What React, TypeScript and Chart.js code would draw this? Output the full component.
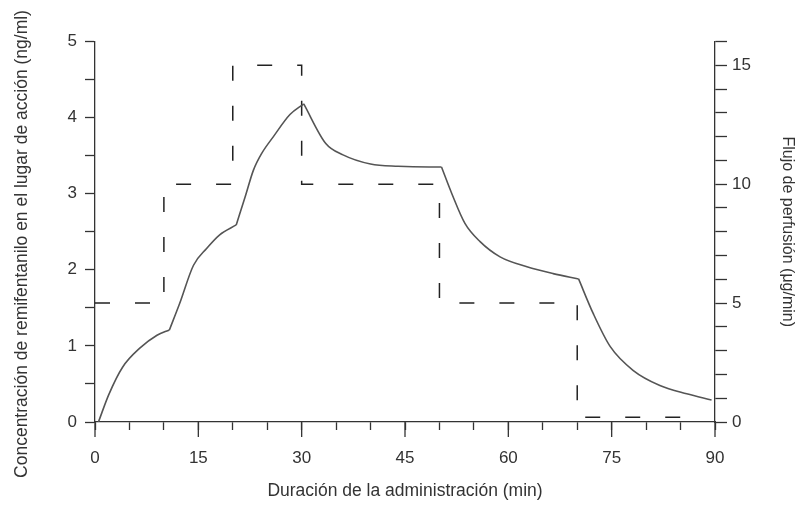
import { useEffect, useRef } from "react";
import { Chart, registerables } from "chart.js";

Chart.register(...registerables);

// Concentración en el lugar de acción (ng/ml) vs. tiempo (min)
const concTime = [0.5, 2, 4, 6.5, 9, 10.8, 12.3, 14.3, 16.2, 18.1, 20.5, 21.8, 23, 24.2, 25.9, 28.3, 30.3, 33.5, 36, 40, 44, 48.5, 50.3, 51.8, 53.7, 55.9, 58.8, 62.7, 66.5, 70.2, 72.3, 74.8, 78.1, 82, 85.9, 89.5];
const concValue = [0, 0.36, 0.72, 0.97, 1.14, 1.21, 1.56, 2.06, 2.28, 2.46, 2.59, 2.96, 3.31, 3.53, 3.75, 4.04, 4.18, 3.66, 3.51, 3.39, 3.36, 3.35, 3.35, 3.0, 2.61, 2.37, 2.17, 2.04, 1.95, 1.88, 1.43, 0.99, 0.68, 0.48, 0.37, 0.29];
// Cambios de velocidad de perfusión (min) donde la curva presenta un quiebre
const phaseBreaks = [10.8, 20.5, 30.3, 50.3, 70.2];

// Flujo de perfusión (µg/min), escalonado
const flowTime = [0, 10, 20, 30, 50, 70, 88];
const flowRate = [5, 10, 15, 10, 5, 0.2, 0.2];

const xMajorTicks = [0, 15, 30, 45, 60, 75, 90];
const leftLabelStep = 1;
const rightLabelStep = 5;

const leftTitle = "Concentración de remifentanilo en el lugar de acción (ng/ml)";
const rightTitle = "Flujo de perfusión (μg/min)";
const bottomTitle = "Duración de la administración (min)";

const axisColor = "#333";
const textColor = "#333";
const fontFamily = "'Liberation Sans', Arial, Helvetica, sans-serif";

const majorTickPlugin = {
  id: "majorTicks",
  afterDraw(chart: any) {
    const x = chart.scales.x;
    const ctx = chart.ctx;
    ctx.save();
    ctx.strokeStyle = axisColor;
    ctx.lineWidth = 1.3;
    for (const v of xMajorTicks) {
      const px = x.getPixelForValue(v);
      ctx.beginPath();
      ctx.moveTo(px, x.top);
      ctx.lineTo(px, x.top + 15);
      ctx.stroke();
    }
    ctx.restore();
  },
};

const leftTitlePlugin = {
  id: "leftTitle",
  afterDraw(chart: any) {
    const ctx = chart.ctx;
    ctx.save();
    ctx.translate(22, 244);
    ctx.rotate(-Math.PI / 2);
    ctx.fillStyle = textColor;
    ctx.font = `17.5px ${fontFamily}`;
    ctx.textAlign = "center";
    ctx.textBaseline = "middle";
    ctx.fillText(leftTitle, 0, 0);
    ctx.restore();
  },
};

function buildPhases() {
  const bounds = [concTime[0], ...phaseBreaks, concTime[concTime.length - 1]];
  const phases: { x: number; y: number }[][] = [];
  for (let i = 0; i < bounds.length - 1; i++) {
    const lo = bounds[i];
    const hi = bounds[i + 1];
    const pts: { x: number; y: number }[] = [];
    concTime.forEach((t, j) => {
      if (t >= lo && t <= hi) pts.push({ x: t, y: concValue[j] });
    });
    phases.push(pts);
  }
  return phases;
}

export default function App() {
  const canvasRef = useRef<HTMLCanvasElement | null>(null);

  useEffect(() => {
    if (!canvasRef.current) return;
    const phases = buildPhases();
    const concDatasets = phases.map((pts) => ({
      type: "line" as const,
      data: pts,
      yAxisID: "y",
      borderColor: "#555",
      borderWidth: 1.6,
      pointRadius: 0,
      cubicInterpolationMode: "monotone" as const,
      fill: false,
    }));
    const flowDataset = {
      type: "line" as const,
      data: flowTime.map((t, i) => ({ x: t, y: flowRate[i] })),
      yAxisID: "y1",
      borderColor: "#222",
      borderWidth: 1.5,
      borderDash: [15, 25],
      pointRadius: 0,
      stepped: true,
      fill: false,
    };

    const tickFont = { family: fontFamily, size: 17 };

    const chart = new Chart(canvasRef.current, {
      type: "line",
      data: { datasets: [...concDatasets, flowDataset] as any },
      plugins: [majorTickPlugin, leftTitlePlugin],
      options: {
        responsive: false,
        animation: false,
        layout: { padding: { top: 41.5, left: 0, right: 0, bottom: 0 } },
        plugins: { legend: { display: false }, tooltip: { enabled: false } },
        scales: {
          x: {
            type: "linear",
            min: 0,
            max: 90,
            afterFit: (s: any) => {
              s.height = 84;
            },
            ticks: {
              stepSize: 5,
              autoSkip: false,
              maxRotation: 0,
              padding: 18,
              color: textColor,
              font: tickFont,
              callback: (v: any) => (v % 15 === 0 ? String(v) : ""),
            },
            grid: {
              drawOnChartArea: false,
              drawTicks: true,
              tickLength: 8,
              tickColor: axisColor,
              tickWidth: 1.3,
            },
            border: { display: true, color: axisColor, width: 1.3 },
            title: {
              display: true,
              text: bottomTitle,
              color: textColor,
              font: { family: fontFamily, size: 17.5 },
              padding: { top: 0, bottom: 4 },
            },
          },
          y: {
            type: "linear",
            position: "left",
            min: 0,
            max: 5,
            afterFit: (s: any) => {
              s.width = 95;
            },
            ticks: {
              stepSize: 0.5,
              autoSkip: false,
              padding: 8,
              color: textColor,
              font: tickFont,
              callback: (v: any) => (Math.abs(v % leftLabelStep) < 1e-9 ? String(v) : ""),
            },
            grid: {
              drawOnChartArea: false,
              tickLength: 10,
              tickColor: axisColor,
              tickWidth: 1.3,
            },
            border: { display: true, color: axisColor, width: 1.3 },
            title: { display: false },
          },
          y1: {
            type: "linear",
            position: "right",
            min: 0,
            max: 16,
            afterFit: (s: any) => {
              s.width = 83;
            },
            ticks: {
              stepSize: 1,
              autoSkip: false,
              padding: 5,
              color: textColor,
              font: tickFont,
              callback: (v: any) => (v % rightLabelStep === 0 ? String(v) : ""),
            },
            grid: {
              drawOnChartArea: false,
              tickLength: 12,
              tickColor: axisColor,
              tickWidth: 1.3,
            },
            border: { display: true, color: axisColor, width: 1.3 },
            title: {
              display: true,
              text: rightTitle,
              color: textColor,
              font: { family: fontFamily, size: 16 },
              padding: { top: 1, bottom: 0 },
            },
          },
        },
      } as any,
    });
    return () => chart.destroy();
  }, []);

  return (
    <div style={{ position: "fixed", left: 0, top: 0, width: 798, height: 506, background: "#fff" }}>
      <canvas ref={canvasRef} width={798} height={506} style={{ display: "block" }} />
    </div>
  );
}
